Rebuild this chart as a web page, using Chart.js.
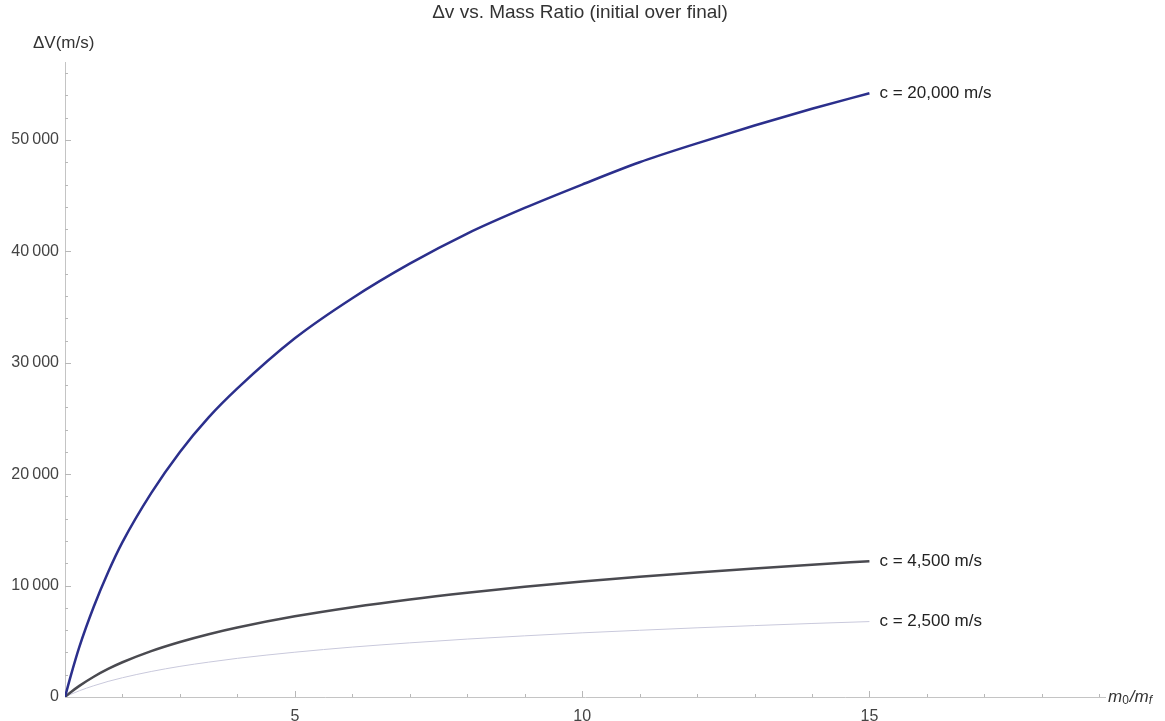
<!DOCTYPE html>
<html>
<head>
<meta charset="utf-8">
<script src="https://cdn.jsdelivr.net/npm/chart.js@4"></script>
<style>
  html, body { margin: 0; padding: 0; background: #fff; }
  #wrap { width: 1165px; height: 721px; position: relative; }
</style>
</head>
<body>
<div id="wrap"><canvas id="chart"></canvas></div>
<script>
// mass ratio m0/mf sampled along the curves
const ratios = [1, 1.1, 1.25, 1.5, 1.75, 2, 2.5, 3, 3.5, 4, 5, 6, 7, 8, 9, 10, 11, 12, 13, 14, 15];

// delta-v (m/s)
const dvC20000 = [0, 1900, 4500, 8100, 11200, 13900, 18300, 22000, 25100, 27700, 32200, 35800, 38900, 41600, 43900, 46000, 48000, 49700, 51300, 52800, 54200];
const dvC4500  = [0, 430, 1000, 1820, 2520, 3120, 4120, 4940, 5640, 6240, 7240, 8060, 8760, 9360, 9890, 10360, 10790, 11180, 11540, 11880, 12190];
const dvC2500  = [0, 240, 560, 1010, 1400, 1730, 2290, 2750, 3130, 3470, 4020, 4480, 4860, 5200, 5490, 5760, 5990, 6210, 6410, 6600, 6770];

const seriesLabels = ["c = 20,000 m/s", "c = 4,500 m/s", "c = 2,500 m/s"];
const xTicks = [5, 10, 15];
const yTicks = [0, 10000, 20000, 30000, 40000, 50000];

const title = "\u0394v vs. Mass Ratio (initial over final)";
const yTitle = "\u0394V(m/s)";

const sans = "'Liberation Sans', Arial, sans-serif";

function pts(ys) {
    return ratios.map((r, i) => ({x: r, y: ys[i]}));
}

function fmt(v) {
    let s = String(v);
    if (s.length > 4) s = s.slice(0, s.length - 3) + "\u2009" + s.slice(-3);
    return s;
}

// axis ticks pointing inward, the Mathematica way, plus titles and curve labels
const decor = {
    id: "decor",
    afterDraw(chart) {
        let ctx = chart.ctx;
        let xs = chart.scales.x, ys = chart.scales.y;
        let a = chart.chartArea;
        ctx.save();
        ctx.strokeStyle = "#b8b8b8";
        ctx.lineWidth = 1;
        for (let v = 2; v <= 19; v++) {
            let px = Math.round(xs.getPixelForValue(v)) + 0.5;
            let len = (v % 5 === 0) ? 6 : 3;
            ctx.beginPath();
            ctx.moveTo(px, a.bottom);
            ctx.lineTo(px, a.bottom - len);
            ctx.stroke();
        }
        for (let v = 2000; v <= 56000; v += 2000) {
            let py = Math.round(ys.getPixelForValue(v)) + 0.5;
            let len = (v % 10000 === 0) ? 6 : 3;
            ctx.beginPath();
            ctx.moveTo(a.left, py);
            ctx.lineTo(a.left + len, py);
            ctx.stroke();
        }

        ctx.fillStyle = "#333";
        ctx.font = "19px " + sans;
        ctx.textAlign = "center";
        ctx.textBaseline = "middle";
        ctx.fillText(title, 580, 13);

        ctx.textAlign = "left";
        ctx.font = "17px " + sans;
        ctx.fillText(yTitle, 33, 43);

        // x axis label m0/mf
        let x0 = 1108, y0 = 697;
        ctx.font = "italic 17px " + sans;
        ctx.fillText("m", x0, y0);
        let w = ctx.measureText("m").width;
        ctx.font = "12px " + sans;
        ctx.fillText("0", x0 + w, y0 + 4);
        let w2 = ctx.measureText("0").width;
        ctx.font = "italic 17px " + sans;
        ctx.fillText("/m", x0 + w + w2 + 1, y0);
        let w3 = ctx.measureText("/m").width;
        ctx.font = "italic 12px " + sans;
        ctx.fillText("f", x0 + w + w2 + 1 + w3, y0 + 4);

        // curve labels next to last point
        ctx.font = "17px " + sans;
        ctx.fillStyle = "#222";
        chart.data.datasets.forEach((ds, i) => {
            let last = ds.data[ds.data.length - 1];
            let px = xs.getPixelForValue(last.x) + 10;
            let py = ys.getPixelForValue(last.y);
            ctx.fillText(seriesLabels[i], px, py);
        });
        ctx.restore();
    }
};

const tickFont = {family: sans, size: 16};

new Chart(document.getElementById("chart"), {
    type: "line",
    data: {
        datasets: [
            {data: pts(dvC20000), borderColor: "#2b2f8c", borderWidth: 2.5},
            {data: pts(dvC4500), borderColor: "#4a4a50", borderWidth: 2.5},
            {data: pts(dvC2500), borderColor: "#c9c9dc", borderWidth: 1}
        ]
    },
    options: {
        responsive: true,
        maintainAspectRatio: false,
        animation: false,
        layout: {padding: {left: 0, right: 60, top: 62, bottom: 0}},
        elements: {
            point: {radius: 0},
            line: {cubicInterpolationMode: "monotone", tension: 0.4}
        },
        plugins: {legend: {display: false}, tooltip: {enabled: false}},
        scales: {
            x: {
                type: "linear",
                min: 1,
                max: 19.1,
                afterFit: s => { s.height = 24; },
                afterBuildTicks: s => { s.ticks = xTicks.map(v => ({value: v})); },
                grid: {display: false, drawTicks: false, tickLength: 0},
                border: {display: true, color: "#c4c4c4", width: 1, dash: [2, 2]},
                ticks: {font: tickFont, color: "#444", padding: 10, maxRotation: 0}
            },
            y: {
                min: 0,
                max: 57000,
                afterFit: s => { s.width = 65; },
                afterBuildTicks: s => { s.ticks = yTicks.map(v => ({value: v})); },
                grid: {display: false, drawTicks: false, tickLength: 0},
                border: {display: true, color: "#c4c4c4", width: 1, dash: [2, 2]},
                ticks: {font: tickFont, color: "#444", padding: 6, callback: v => fmt(v)}
            }
        }
    },
    plugins: [decor]
});
</script>
</body>
</html>
